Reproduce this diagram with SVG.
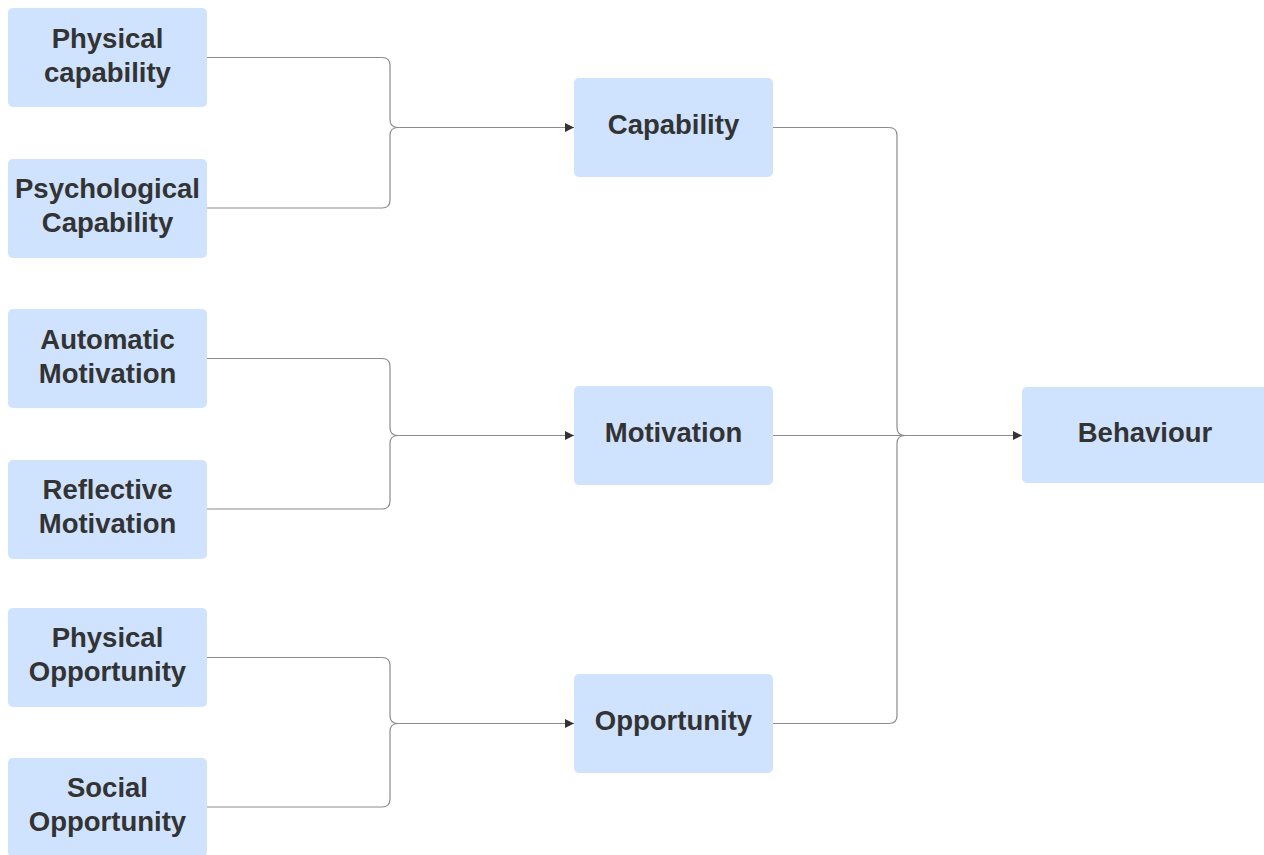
<svg xmlns="http://www.w3.org/2000/svg" width="1264" height="855" viewBox="0 0 1264 855">
<style>
.box{fill:#cfe2fe;}
.t{font-family:"Liberation Sans",Arial,sans-serif;font-weight:bold;font-size:27.5px;fill:#333333;text-anchor:middle;}
.c{fill:none;stroke:#8c8c8c;stroke-width:1.2;}
</style>
<defs>
<marker id="ah" viewBox="0 0 10 10" refX="10" refY="5" markerWidth="13" markerHeight="9" markerUnits="userSpaceOnUse" orient="auto">
<path d="M0,0 L10,5 L0,10 z" fill="#333"/>
</marker>
</defs>
<rect width="1264" height="855" fill="#ffffff"/>
<g id="connectors">
<path class="c" d="M207 57.5 H382 Q390 57.5 390 65.5 V119.5 Q390 127.5 398 127.5"/>
<path class="c" d="M207 208 H382 Q390 208 390 200 V135.5 Q390 127.5 398 127.5 H574" marker-end="url(#ah)"/>
<path class="c" d="M207 358.5 H382 Q390 358.5 390 366.5 V427.5 Q390 435.5 398 435.5"/>
<path class="c" d="M207 509 H382 Q390 509 390 501 V443.5 Q390 435.5 398 435.5 H574" marker-end="url(#ah)"/>
<path class="c" d="M207 657.5 H382 Q390 657.5 390 665.5 V715.5 Q390 723.5 398 723.5"/>
<path class="c" d="M207 807 H382 Q390 807 390 799 V731.5 Q390 723.5 398 723.5 H574" marker-end="url(#ah)"/>
<path class="c" d="M773 127.5 H889 Q897 127.5 897 135.5 V427.5 Q897 435.5 905 435.5"/>
<path class="c" d="M773 723.5 H889 Q897 723.5 897 715.5 V443.5 Q897 435.5 905 435.5"/>
<path class="c" d="M773 435.5 H1022" marker-end="url(#ah)"/>
</g>
<g id="n-physical-capability"><rect class="box" x="8" y="8" width="199" height="99" rx="5"/><text class="t" x="107.5" y="48">Physical</text><text class="t" x="107.5" y="82">capability</text></g>
<g id="n-psychological-capability"><rect class="box" x="8" y="159" width="199" height="99" rx="5"/><text class="t" x="107.5" y="198">Psychological</text><text class="t" x="107.5" y="232">Capability</text></g>
<g id="n-automatic-motivation"><rect class="box" x="8" y="309" width="199" height="99" rx="5"/><text class="t" x="107.5" y="349">Automatic</text><text class="t" x="107.5" y="383">Motivation</text></g>
<g id="n-reflective-motivation"><rect class="box" x="8" y="460" width="199" height="99" rx="5"/><text class="t" x="107.5" y="499">Reflective</text><text class="t" x="107.5" y="533">Motivation</text></g>
<g id="n-physical-opportunity"><rect class="box" x="8" y="608" width="199" height="99" rx="5"/><text class="t" x="107.5" y="647">Physical</text><text class="t" x="107.5" y="681">Opportunity</text></g>
<g id="n-social-opportunity"><rect class="box" x="8" y="758" width="199" height="99" rx="5"/><text class="t" x="107.5" y="797">Social</text><text class="t" x="107.5" y="831">Opportunity</text></g>
<g id="n-capability"><rect class="box" x="574" y="78" width="199" height="99" rx="5"/><text class="t" x="673.5" y="134">Capability</text></g>
<g id="n-motivation"><rect class="box" x="574" y="386" width="199" height="99" rx="5"/><text class="t" x="673.5" y="442">Motivation</text></g>
<g id="n-opportunity"><rect class="box" x="574" y="674" width="199" height="99" rx="5"/><text class="t" x="673.5" y="730">Opportunity</text></g>
<g id="n-behaviour"><rect class="box" x="1022" y="387" width="250" height="96" rx="5"/><text class="t" x="1145" y="442">Behaviour</text></g>
</svg>
